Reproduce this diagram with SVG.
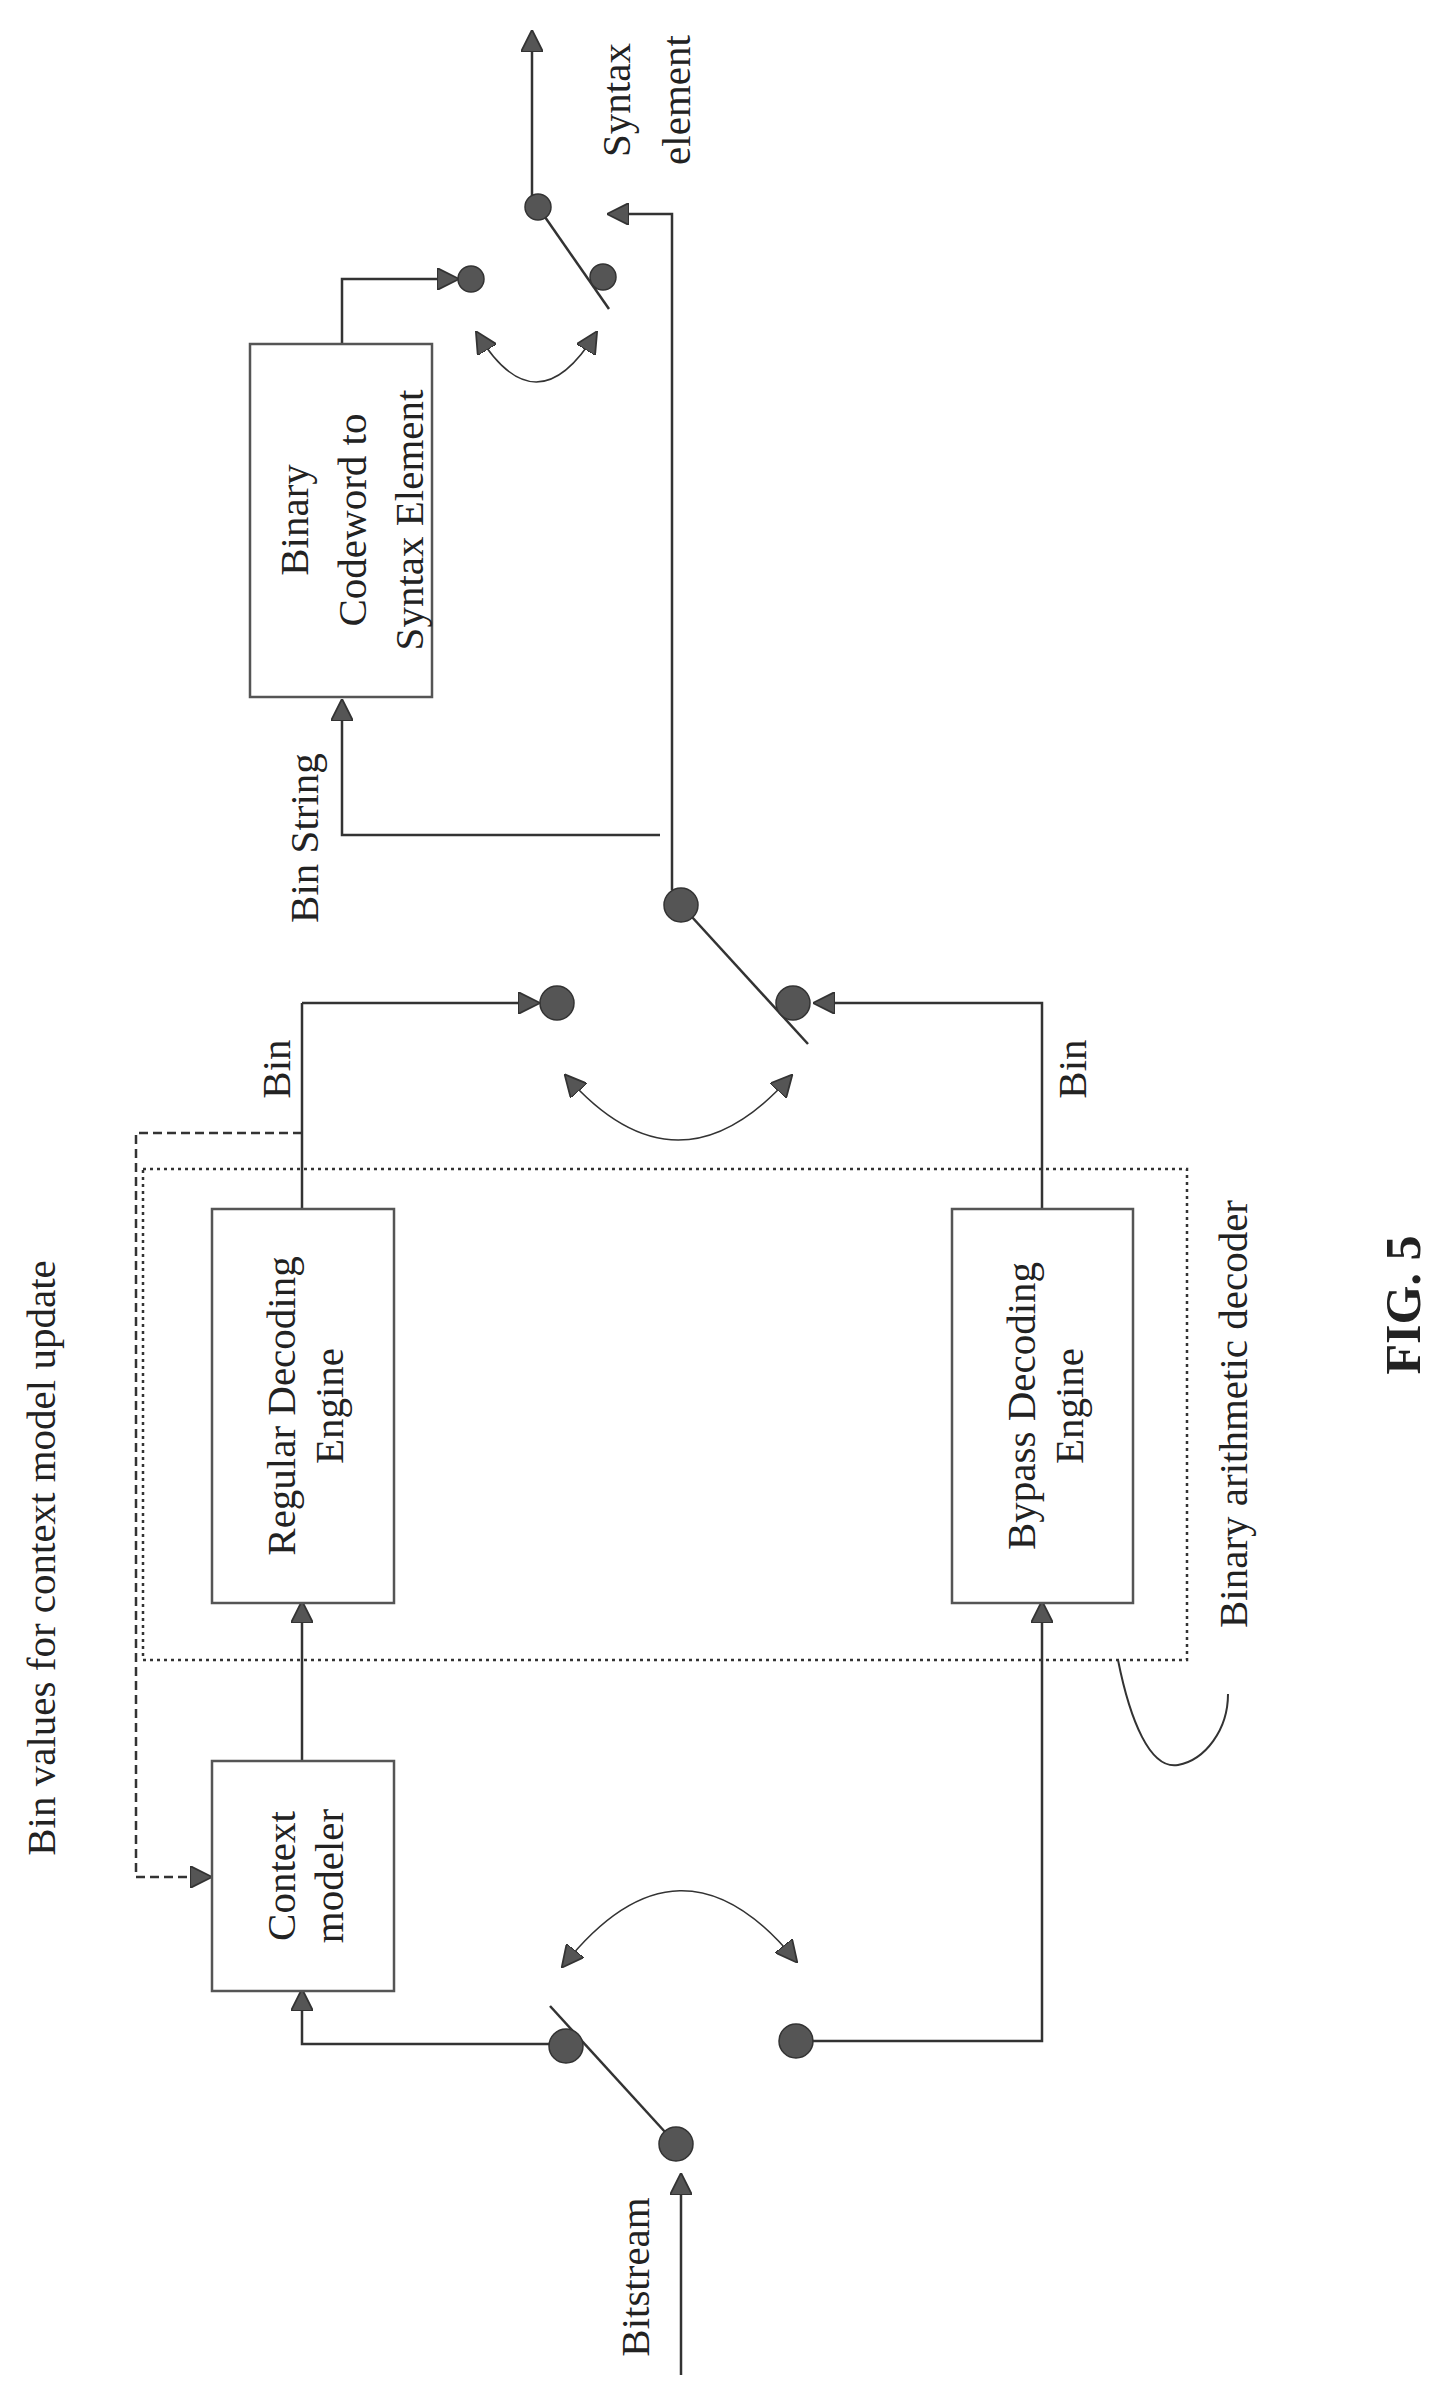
<svg xmlns="http://www.w3.org/2000/svg" width="1442" height="2396" viewBox="0 0 1442 2396">
<style>
text{font-family:"Liberation Serif","Times New Roman",serif;font-size:41px;fill:#222;text-anchor:middle;dominant-baseline:central}
.box{fill:#fff;stroke:#555;stroke-width:2.5}
.ln{fill:none;stroke:#333;stroke-width:2.5}
.dot{fill:#555;stroke:#333;stroke-width:1.5}
</style>
<defs>
<marker id="ah" viewBox="0 0 10 10" refX="9" refY="5" markerWidth="22" markerHeight="22" markerUnits="userSpaceOnUse" orient="auto-start-reverse">
<path d="M0,0 L10,5 L0,10 z" fill="#555" stroke="#333" stroke-width="0.8"/>
</marker>
</defs>
<g id="connectors">
<path class="ln" d="M302,1003 H538" marker-end="url(#ah)"/>
<path class="ln" d="M302,1209 V1003"/>
<path class="ln" d="M1042,1209 V1003 H815" marker-end="url(#ah)"/>
<path class="ln" d="M681,905 L808,1044"/>
<path class="ln" d="M672,890 V214 H609" marker-end="url(#ah)"/>
<path class="ln" d="M660,835 H342 V701" marker-end="url(#ah)"/>
<path class="ln" d="M342,344 V279 H457" marker-end="url(#ah)"/>
<path class="ln" d="M538,207 L609,309"/>
<path class="ln" d="M532,196 V32" marker-end="url(#ah)"/>
<path class="ln" d="M477,333 Q536,431 596,333" marker-start="url(#ah)" marker-end="url(#ah)" style="stroke-width:1.5"/>
<path class="ln" d="M566,1076 Q678,1204 791,1076" marker-start="url(#ah)" marker-end="url(#ah)" style="stroke-width:1.5"/>
<path class="ln" d="M563,1966 Q680,1818 796,1961" marker-start="url(#ah)" marker-end="url(#ah)" style="stroke-width:1.5"/>
<path class="ln" d="M302,1133 H136 V1877 H210" marker-end="url(#ah)" style="stroke-dasharray:9,5"/>
<path class="ln" d="M302,1761 V1603" marker-end="url(#ah)"/>
<path class="ln" d="M566,2044 H302 V1991" marker-end="url(#ah)"/>
<path class="ln" d="M676,2144 L550,2006"/>
<path class="ln" d="M796,2041 H1042 V1603" marker-end="url(#ah)"/>
<path class="ln" d="M681,2375 V2175" marker-end="url(#ah)"/>
<path class="ln" d="M1118,1660 C1130,1720 1150,1770 1178,1765 C1205,1760 1228,1730 1228,1694" style="stroke-width:2"/>
</g>
<g id="dots">
<circle class="dot" cx="538" cy="207" r="13"/>
<circle class="dot" cx="471" cy="279" r="13"/>
<circle class="dot" cx="603" cy="277" r="13"/>
<circle class="dot" cx="681" cy="905" r="17"/>
<circle class="dot" cx="557" cy="1003" r="17"/>
<circle class="dot" cx="793" cy="1003" r="17"/>
<circle class="dot" cx="566" cy="2046" r="17"/>
<circle class="dot" cx="796" cy="2041" r="17"/>
<circle class="dot" cx="676" cy="2144" r="17"/>
</g>
<g id="binary-arithmetic-decoder">
<rect x="143" y="1169" width="1044" height="491" fill="none" stroke="#333" stroke-width="2.5" stroke-dasharray="3,4"/>
<text transform="rotate(-90 1233 1414)" x="1233" y="1414">Binary arithmetic decoder</text>
</g>
<g id="binary-codeword">
<rect class="box" x="250" y="344" width="182" height="353"/>
<text transform="rotate(-90 294 520)" x="294" y="520">Binary</text>
<text transform="rotate(-90 352 520)" x="352" y="520">Codeword to</text>
<text transform="rotate(-90 409 520)" x="409" y="520">Syntax Element</text>
</g>
<g id="regular-engine">
<rect class="box" x="212" y="1209" width="182" height="394"/>
<text transform="rotate(-90 281 1406)" x="281" y="1406">Regular Decoding</text>
<text transform="rotate(-90 329 1406)" x="329" y="1406">Engine</text>
</g>
<g id="bypass-engine">
<rect class="box" x="952" y="1209" width="181" height="394"/>
<text transform="rotate(-90 1021 1406)" x="1021" y="1406">Bypass Decoding</text>
<text transform="rotate(-90 1069 1406)" x="1069" y="1406">Engine</text>
</g>
<g id="context-modeler">
<rect class="box" x="212" y="1761" width="182" height="230"/>
<text transform="rotate(-90 281 1876)" x="281" y="1876">Context</text>
<text transform="rotate(-90 329 1876)" x="329" y="1876">modeler</text>
</g>
<g id="labels">
<text transform="rotate(-90 41 1558)" x="41" y="1558">Bin values for context model update</text>
<text transform="rotate(-90 276 1069)" x="276" y="1069">Bin</text>
<text transform="rotate(-90 1072 1069)" x="1072" y="1069">Bin</text>
<text transform="rotate(-90 304 838)" x="304" y="838">Bin String</text>
<text transform="rotate(-90 616 100)" x="616" y="100">Syntax</text>
<text transform="rotate(-90 676 100)" x="676" y="100">element</text>
<text transform="rotate(-90 635 2277)" x="635" y="2277">Bitstream</text>
<text transform="rotate(-90 1403 1305)" x="1403" y="1305" style="font-weight:bold;font-size:50px">FIG. 5</text>
</g>
</svg>
